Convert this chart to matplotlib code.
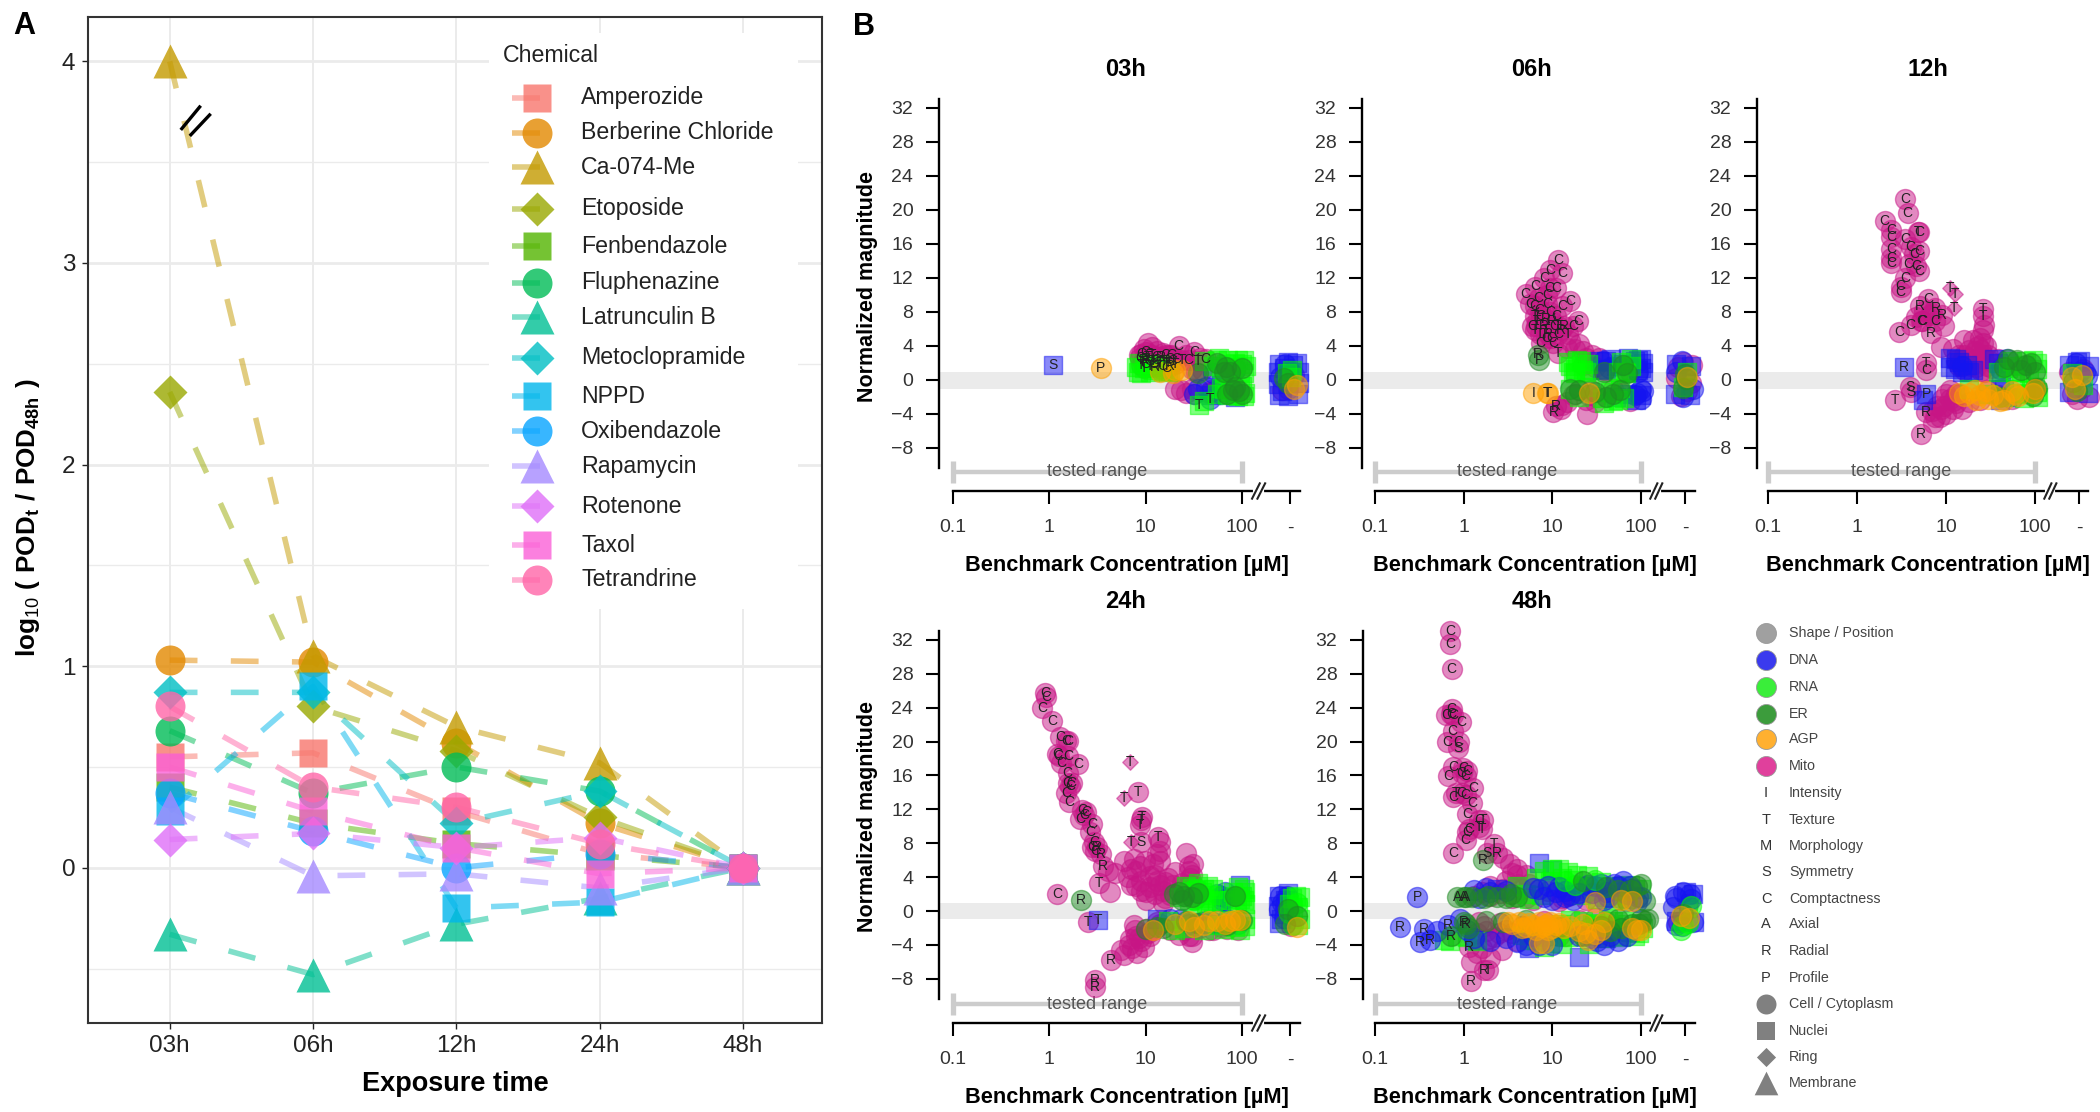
import matplotlib
matplotlib.use("Agg")
import matplotlib.pyplot as plt

plt.rcParams['font.family'] = ['Liberation Sans', 'DejaVu Sans']
plt.rcParams['mathtext.fontset'] = 'custom'
plt.rcParams['mathtext.rm'] = 'Liberation Sans'
plt.rcParams['mathtext.bf'] = 'Liberation Sans:bold'

W, H = 2100, 1112

# panel A
times = ['03h', '06h', '12h', '24h', '48h']
chemicals = ['Amperozide', 'Berberine Chloride', 'Ca-074-Me', 'Etoposide', 'Fenbendazole', 'Fluphenazine',
             'Latrunculin B', 'Metoclopramide', 'NPPD', 'Oxibendazole', 'Rapamycin', 'Rotenone', 'Taxol', 'Tetrandrine']
chem_colors = ['#F8766D', '#E38900', '#C49A00', '#99A800', '#53B400', '#00BC56', '#00C094',
               '#00BFC4', '#00B6EB', '#06A4FF', '#A58AFF', '#DF70F8', '#FB61D7', '#FF66A8']
chem_markers = ['s', 'o', '^', 'D', 's', 'o', '^', 'D', 's', 'o', '^', 'D', 's', 'o']
amperozide = [0.55, 0.57, 0.28, 0.07, 0]
berberine = [1.03, 1.02, 0.62, 0.22, 0]
ca074 = [4.0, 1.05, 0.70, 0.52, 0]
etoposide = [2.36, 0.80, 0.58, 0.25, 0]
fenbendazole = [0.40, 0.22, 0.12, 0.06, 0]
fluphenazine = [0.68, 0.37, 0.50, 0.38, 0]
latrunculin = [-0.33, -0.53, -0.28, -0.15, 0]
metoclopramide = [0.87, 0.87, 0.22, 0.38, 0]
nppd = [0.28, 0.90, -0.20, -0.17, 0]
oxibendazole = [0.37, 0.18, 0.0, 0.07, 0]
rapamycin = [0.30, -0.04, -0.03, -0.10, 0]
rotenone = [0.14, 0.17, 0.10, 0.15, 0]
taxol = [0.50, 0.28, 0.10, -0.03, 0]
tetrandrine = [0.80, 0.40, 0.30, 0.12, 0]
chem_values = [amperozide, berberine, ca074, etoposide, fenbendazole, fluphenazine, latrunculin,
               metoclopramide, nppd, oxibendazole, rapamycin, rotenone, taxol, tetrandrine]
break_x = [[0.077, 0.216], [0.14, 0.286]]
break_y = [[3.66, 3.78], [3.63, 3.74]]

# panel B, (bmc, magnitude[, feature letter])
h03_mito_cell = [(10.5, 4.4), (9.5, 3.6), (11.5, 3.9), (13, 3.4), (15, 3.2), (17, 3.0), (8.5, 2.9), (12, 2.6), (14, 2.4),
                 (16, 2.5), (19, 2.6), (22, 4.0, 'C'), (26, 2.9), (32, 3.3, 'C'), (28, 2.3, 'C'), (37, 2.6), (42, 2.5, 'C'),
                 (30, 1.3), (38, 1.2), (23, -1.2), (20, -1.1), (26, -1.5), (30, -1.0), (46, -1.4), (55, -1.0),
                 (9, 3.1, 'C'), (10, 3.3, 'C'), (10.5, 2.7, 'T'), (11, 3.0, 'C'), (12, 2.2, 'T'), (9.5, 2.3, 'R'), (9, 1.8, 'T'),
                 (10, 1.9, 'C'), (11, 1.6, 'T'), (12.5, 1.5, 'R'), (13, 2.7, 'C'), (14, 2.0, 'T'), (15, 1.7, 'C'), (16, 2.9, 'C'),
                 (17, 2.0, 'T'), (18, 1.6, 'R'), (9.5, 1.4, 'T'), (19, 2.2, 'C'), (24, 2.4, 'T'), (35, 2.2, 'T'),
                 (8.8, 2.6, 'C'), (9.3, 2.1, 'T'), (10, 2.5, 'R'), (10.8, 2.2, 'C'), (11.5, 2.9, 'T'), (12, 1.9, 'C'), (12.8, 2.4, 'C'),
                 (13.5, 1.7, 'T'), (14.5, 2.7, 'R'), (15.5, 2.2, 'T'), (16.5, 1.4, 'C'), (17.5, 2.5, 'C'), (18.5, 2.9, 'C'), (20, 1.9, 'T'),
                 (21, 2.5, 'C'), (85, 1.2), (84, 1.4), (32, -1.6), (45, -1.5), (48, -1.2), (33, 1.0), (260, -1.2), (300, -1.0), (350, 0.6)]
h03_dna_nuc = [(1.1, 1.75, 'S'), (48, -1.8), (85, -2.0), (60, -0.6), (240, 1.9), (300, 2.1), (370, 2.0), (390, 1.0), (235, 1.0),
               (235, -0.5), (240, -1.8), (300, -1.9), (380, -1.7), (395, -0.4), (310, 0.7), (270, 1.4), (340, 1.8), (260, -1.3)]
h03_dna_cell = [(32, -1.6), (47, -2.2, 'T'), (50, 0.8), (85, 1.2), (42, -0.8), (35, -1.1), (60, -1.7), (250, 0.4), (280, 1.9)]
h03_rna_nuc = [(8.3, 1.0), (8.5, 2.0), (9.5, 1.4), (11, 0.9), (13, 1.5), (15, 1.1), (17, 0.9), (55, 2.3), (60, 1.4), (65, 0.8),
               (72, 2.3), (80, 1.5), (90, 2.4), (95, 1.1), (105, 2.4), (105, 0.8), (110, 1.6), (36, -2.9, 'T'), (40, -2.5),
               (60, -0.9), (70, -1.8), (80, -1.0), (90, -1.9), (100, -0.7), (108, -1.5), (40, 2.2), (290, 0.8), (330, 1.2), (320, 0.4),
               (8, 1.5), (9, 0.8), (10, 1.9), (12, 1.2), (14, 1.9), (16, 1.3), (18, 1.1), (50, 1.6), (58, 2.6), (68, 1.9), (75, 1.0), (85, 2.0),
               (100, 1.9), (55, -1.6), (65, -1.0), (75, -1.4), (85, -1.8), (95, -1.2), (105, -1.9)]
h03_er_cell = [(68, 1.5), (75, 0.9), (80, -1.2), (92, -1.3), (55, 2.0), (35, 0.8), (270, 0.2), (300, -0.3), (65, 1.0), (100, 1.4),
               (85, -0.8), (70, -1.6), (100, -1.7)]
h03_agp_cell = [(3.4, 1.4, 'P'), (14, 0.9), (20, 1.2), (24, 1.2), (19, 0.8), (370, -0.6), (350, -1.0)]

h06_mito_cell = [(11.7, 14.1, 'C'), (9.4, 13, 'C'), (13, 12.6, 'C'), (8.1, 12, 'C'), (5, 10.1, 'C'), (6.4, 11, 'C'), (9.3, 10.8, 'C'),
                 (11, 10.8, 'C'), (8.7, 10, 'C'), (16, 9.3, 'C'), (13, 8.7, 'C'), (6.3, 8.7, 'C'), (8.8, 8.9, 'C'), (19.4, 6.9, 'C'),
                 (6.3, 7.5, 'T'), (7.4, 7.5, 'C'), (11, 7.5, 'C'), (5.9, 6.3, 'C'), (6.6, 6.3, 'T'), (8, 6.3, 'R'), (10.5, 6.3, 'C'),
                 (13.4, 6.3, 'R'), (17, 6.3, 'C'), (7.2, 5.4, 'T'), (9, 5.4, 'R'), (11.7, 5.4, 'C'), (15, 5.4, 'T'), (7.4, 4.4, 'C'),
                 (5.6, 8.9, 'C'), (7, 9.6, 'C'), (7.2, 8.2, 'C'), (6.8, 6.9, 'T'), (8.5, 7.2, 'R'), (9.5, 8, 'C'), (10, 6.9, 'R'), (11.5, 6.3, 'T'),
                 (12.5, 5.9, 'R'), (8.4, 5.9, 'T'), (9.6, 4.9, 'C'), (8.5, 4.9, 'C'), (6.4, 5.9, 'T'),
                 (10.3, 4.4, 'C'), (11.7, 3.2, 'T'), (15.7, 4.6), (20, 4.2), (22, 3.4), (18, 3.6), (14.5, 3.8), (24, 2.6), (22, 1.8),
                 (28, 3.0), (34, 2.6), (30, 1.5), (26, 0.9), (38, 1.2), (25, 2.0), (10.3, -3.8, 'R'), (11, -3, 'R'), (14.5, -2.6), (24.5, -4),
                 (24, -2.4), (12.5, -3.4), (17, -1.8), (20, -1.2), (27, -1.2), (32, -2.0), (60, -1.5), (75, 1.0), (48, -1.0),
                 (25, -1.8), (13, -2.9), (30, -2.6), (75, -2.5), (260, 1.5), (330, -1.3), (280, -1.9), (380, 1.8), (250, 0.2), (370, -0.3), (300, 2.1)]
h06_dna_nuc = [(34, 2.2), (40, 1.3), (46, 2.5), (62, 1.9), (72, 2.6), (85, 2.2), (100, 2.5), (100, 1.4), (52, -2.0), (70, -1.6),
               (245, 1.9), (370, 1.6), (240, -1.6), (360, -1.8), (40, 2.2), (36, 1.2), (52, 1.6), (92, 2.4), (92, 1.2), (105, 2.0), (105, 1.0),
               (88, -2.3), (100, -1.8)]
h06_dna_cell = [(37, 2.2), (44, 1.4), (85, -1.8), (100, -1.1), (100, -2.2), (92, 0.9), (250, 0.9), (385, -1.0), (290, 2.2), (300, -2.0), (90, -1.5), (105, -1.3)]
h06_rna_nuc = [(15, 2.1), (18, 1.3), (21, 2.2), (24, 0.9), (18, 0.8), (55, 1.0), (60, 2.1), (68, 0.8), (78, 1.6), (36, -2.1),
               (42, -1.2), (48, -2.5), (58, -0.9), (65, -2.1), (16, -1.0), (20, -2.0), (26, -0.8), (16, 1.7), (19, 2.3), (22, 1.2), (25, 1.9), (17, 1.0),
               (38, -2.7), (45, -1.4), (55, -2.4), (66, 0.9), (78, 2.5), (330, 1.0), (300, -0.8)]
h06_er_cell = [(6.9, 3, 'R'), (7.1, 2.3, 'P'), (16, -1.0), (18, -1.6), (30, -1.4), (38, 0.9), (58, -1.2), (70, 0.8), (62, 1.8),
               (310, 0.7), (320, 0.1), (300, -0.9), (20, -1.2), (40, -2.0), (48, -1.6)]
h06_agp_cell = [(6.1, -1.55, 'I'), (8.7, -1.55, 'T'), (9.0, -1.55, 'T'), (26, -1.5), (330, 0.3)]

h12_mito_cell = [(3.5, 21.3, 'C'), (3.7, 19.7, 'C'), (2.05, 18.7, 'C'), (2.4, 17.6, 'C'), (2.4, 16.8, 'C'), (5, 17.4, 'C'), (4.8, 17.4, 'T'),
                 (3.5, 16.6, 'C'), (5, 15.2, 'C'), (2.4, 15.4, 'C'), (2.4, 14.4, 'C'), (2.4, 13.8, 'C'), (4, 15.6, 'C'), (4.4, 14.8, 'C'),
                 (3.8, 13.6, 'C'), (4.6, 13.4, 'C'), (5, 12.8, 'C'), (3.5, 12, 'C'), (3.1, 11, 'C'), (3.1, 10.3, 'C'), (6.3, 9.5, 'C'),
                 (5.1, 8.7, 'R'), (7.6, 8.5, 'R'), (9, 7.7, 'R'), (7.6, 6.9, 'C'), (5.3, 6.9, 'C'), (5.4, 6.9, 'C'), (4, 6.5, 'C'),
                 (3, 5.7, 'C'), (6.7, 5.5, 'R'), (9.5, 6.3), (8.8, 3.9), (26, 8.3, 'T'), (26, 7.5, 'T'), (26, 5.9), (26, 4.3), (26, 2.6),
                 (27, 1), (20, 4.7), (16, 4.7), (16, 3), (13, 2.4), (21, 3.4), (25, 3.5), (30, 3.0), (29, 1.6), (6, 2, 'T'), (6, 1.2, 'C'),
                 (26, 3), (28, 4), (24, 5), (27, 6.5), (23, 4), (18, 3.5), (14, 3), (12, 3.6), (22, 2.5), (31, 2.2), (33, 1.4), (15, 2.2), (19, 1.6),
                 (25, 1.1), (14, 1.7), (16, 1.2), (5.6, 8.1), (6.6, 7.6), (4.6, 7.4), (7, 7.9),
                 (2.7, -2.4, 'T'), (3.9, -0.8, 'S'), (4, -1.4, 'S'), (6, -3.8, 'R'), (5.2, -6.3, 'R'), (7.2, -5), (7.5, -4.3),
                 (9.5, -3), (11, -2.2), (8.8, -3.4), (15, -3.4), (13, -2.7), (11, -1.2), (13, -1.6), (9, -2.2), (24, -2.4), (18, -2.6),
                 (8, -3.0), (10, -4), (12, -2.5), (14, -1.6), (10, -1.6), (12, -3.4), (7, -3.6), (8.5, -4.4), (30, -1.2), (38, -1.8), (55, -2.2),
                 (17, 2.6), (22, 1.5), (38, 2.5), (46, 1.3), (260, -1.6), (350, 1.3), (400, -2.0), (240, 0.9), (340, -0.9), (300, -2.2)]
h12_mito_ring = [(11, 10.8, 'T'), (12.5, 10.1, 'T'), (12.3, 8.5, 'T')]
h12_dna_nuc = [(3.4, 1.5, 'R'), (5.5, -2.4), (6, -1.6, 'P'), (11, 2.6), (12.5, 1.3), (14, 2.1), (18, 0.9), (38, 2.0), (42, 0.9), (40, -1.0),
               (48, -2.0), (240, 1.8), (320, 2.2), (400, 1.6), (240, -1.4), (395, -1.5), (300, 2.1), (11, 1.5), (13, 2.5), (15, 1.0), (17, 1.8), (20, 1.2),
               (40, -2.3), (45, -1.0), (35, 2.5)]
h12_dna_cell = [(15, 1.6), (40, 1.3), (48, 2.5), (310, 1.0), (380, 0.5), (290, 2.0), (360, 1.0)]
h12_rna_nuc = [(38, 1.0), (55, 2.2), (60, 0.9), (75, 1.8), (85, 0.8), (95, 2.3), (105, 1.3), (60, -1.0), (75, -2.1), (90, -1.2), (108, -2.0),
               (18, -1.1), (30, -1.7), (260, 0.8), (350, -0.6), (50, 1.4), (60, 1.6), (70, 0.9), (80, 2.2), (105, 2.0), (65, -1.5), (80, -1.6),
               (100, -0.8), (45, -2.0), (105, -1.4)]
h12_er_cell = [(45, 1.5), (62, 2.3), (80, 1.8), (100, 1.0), (40, -2.0), (100, -1.0), (270, -0.2), (300, -1.3), (50, 2.5), (70, 1.2), (90, 2.0),
               (105, -0.9), (95, -1.9)]
h12_agp_cell = [(14, -1.5), (16, -1.9), (18, -1.5), (21, -1.2), (24, -1.8), (28, -1.3), (34, -1.8), (40, -2.5), (55, -1.3), (65, -1.9),
                (95, -1.5), (280, -1.0), (260, 0.3), (340, 0.6), (45, -2.3), (60, -1.6), (100, -1.0), (30, -2.2), (22, -2.4)]

h24_mito_cell = [(0.91, 25.7, 'C'), (0.93, 25.3, 'C'), (0.84, 24, 'C'), (1.07, 22.4, 'C'), (1.3, 20.5, 'C'), (1.5, 20.1, 'C'), (1.58, 20.1, 'C'),
                 (1.2, 18.5, 'C'), (1.25, 18.3, 'C'), (1.33, 17.5, 'C'), (1.58, 18.3, 'C'), (2, 17.3, 'C'), (1.55, 16.3, 'C'), (1.55, 15.1, 'C'),
                 (1.65, 14.7, 'C'), (1.7, 15.1, 'C'), (1.5, 13.9, 'C'), (1.6, 12.9, 'C'), (2.2, 11.9, 'C'), (2.4, 11.7, 'C'), (2.3, 11.3, 'C'),
                 (2.1, 10.9, 'C'), (2.8, 10.3, 'C'), (2.65, 9.3, 'C'), (2.9, 8.1, 'C'), (3.1, 7.5, 'R'), (2.8, 7.5, 'C'), (3.4, 6.7, 'R'),
                 (3, 7.1, 'C'), (3.6, 5.3, 'R'), (4.1, 4.7), (4.8, 4.5), (3.3, 3.3, 'T'), (4.3, 2.3), (1.2, 1.95, 'C'), (2.55, -1.35, 'T'),
                 (8.4, 14, 'T'), (9, 10.7, 'T'), (8.8, 10.1, 'T'), (9.1, 11.1, 'T'), (9, 8.1, 'S'), (13.5, 8.7, 'T'), (14, 7.1), (9.8, 5.9), (14, 5.9),
                 (26, 6.9), (28, 4.7), (29, 3.9), (29, 3.1), (28, 5.3), (6, 5.9), (7, 3.1), (8, 4.7), (11, 2.8), (10, 1.3), (14, 3.1), (12.5, 4.3), (17, 3.9),
                 (18, 1.9), (12.5, 2.0), (15, 1.0), (6.5, 4), (7, 5), (8, 3), (9, 3.6), (10, 2.2), (11, 4.1), (12, 5.5), (13, 3.6), (15, 2.4), (16, 3.4),
                 (19, 3.1), (20, 4.6), (24, 3.3), (25, 2), (27, 2.5), (30, 4.3), (31, 5.6), (32, 3), (33, 1.5), (16, 1.5), (7.6, 6.1), (9, 2.4), (8.7, 5.3),
                 (13, 6.7), (14, 8.1), (4.4, -5.8, 'R'), (3, -8.2, 'R'), (3, -9, 'R'), (5.5, -4.6), (6.7, -4), (8.2, -5), (6, -5.2), (6.8, -3.3),
                 (8, -2.9), (10, -2.1), (7.5, -1.6), (9, -3.6), (11, -3.0), (13, -1.3), (30, -3.7), (22, -2.8), (45, -2.2), (60, -1.9), (320, -1.8),
                 (7.2, -4.4), (7.7, -2.3), (8.6, -3.2), (9.6, -4.2), (10.5, -2.6), (12, -2.2), (14, -1.5), (16, -1.3), (18, -2.2), (25, -2.3), (28, -3), (36, -2.0),
                 (40, -1.2), (50, -2.2), (70, -2.1), (90, -2.2), (30, -2.9)]
h24_mito_ring = [(6.9, 17.6, 'T'), (6, 13.4, 'T'), (7.1, 8.1, 'T')]
h24_dna_nuc = [(3.2, -1.05, 'T'), (96, 3.1), (60, 1.1), (13, -0.9), (45, -1.5), (240, 1.8), (300, 2.1), (240, -1.4), (235, 0.6), (280, 1.3), (270, -0.4), (255, -0.9)]
h24_dna_cell = [(18, -1.0), (23, -0.9), (60, 1.75), (66, 2.3), (38, -1.3), (260, 1.0), (290, 1.8), (270, -0.8), (55, 2), (62, 1.3), (70, 1.5), (28, -1.5), (50, -1.3),
                (70, -1), (90, -1.5), (250, 1.8), (240, 0.2)]
h24_rna_nuc = [(22, 1.7), (30, 2.7), (36, 1.3), (40, 2.6), (48, 1.9), (42, 0.9), (80, 2.3), (95, 1.4), (108, 2.2), (108, 0.8), (88, 0.9),
               (17, -1.2), (25, -2.0), (55, -1.6), (85, -1.9), (108, -1.0), (330, 1.5), (380, 0.5), (400, -1.0), (26, 3), (28, 1.3), (33, 2.5), (35, 3.3), (38, 2.2),
               (40, 1.5), (44, 3.0), (46, 1.2), (50, 2.6), (55, 1.3), (75, 1.3), (85, 1.8), (90, 2.8), (100, 1.8), (105, 2.6), (105, 1.3), (20, -2.3), (30, -1.0),
               (40, -2.2), (50, -0.9), (65, -2.1), (75, -1.1), (95, -2.3), (108, -1.8), (360, 1.8), (400, 1.6), (340, 0.2), (380, -1.6), (310, 0.8)]
h24_rna_cell = [(25, 2.2), (32, 1.3), (310, -0.2), (340, -1.6), (370, 1.0)]
h24_er_cell = [(2.15, 1.35, 'R'), (19.5, 2), (24, 1.3), (30, 1.6), (10, -2.1), (13, -1.9), (15, -2), (34, -1.4), (100, -1.1), (300, 0.2), (280, -1.5),
               (25, 1.8), (22, 2.2), (35, 2.1), (85, 1.8), (26, -1.2), (70, -1.7), (370, -0.6)]
h24_agp_cell = [(66, -1.5), (75, -1.2), (96, -1.05), (45, -1.2), (32, -1.9), (370, -1.9), (12, -2.2), (55, -1.2), (85, -1.1), (40, -1.6), (28, -1.2), (20, -1.5)]

h48_mito_cell = [(0.7, 33.1, 'C'), (0.7, 31.5, 'C'), (0.73, 28.6, 'C'), (0.73, 23.9, 'C'), (0.72, 23.3, 'C'), (0.63, 23.1, 'C'), (0.76, 23.1, 'C'),
                 (0.93, 22.3, 'C'), (0.75, 21.3, 'C'), (0.65, 20, 'C'), (0.88, 19.9, 'C'), (0.87, 19.3, 'S'), (0.76, 17, 'C'), (0.98, 16.9, 'C'),
                 (1.1, 16.5, 'C'), (0.67, 15.9, 'C'), (1.05, 15.9, 'C'), (0.95, 16.3, 'C'), (1.27, 14.5, 'C'), (0.82, 13.9, 'T'), (0.76, 13.5, 'C'),
                 (1.05, 13.7, 'C'), (0.95, 13.9, 'C'), (1.25, 12.7, 'C'), (1.1, 11.4, 'C'), (1.65, 10.7, 'T'), (1.5, 10.7, 'C'),
                 (1.15, 9.7, 'C'), (1.1, 9.3, 'C'), (1.05, 8.4, 'C'), (1.6, 9.7, 'T'), (1.48, 9.9, 'T'), (0.76, 6.8, 'C'), (2.2, 7.9, 'T'),
                 (1.85, 6.9, 'S'), (2.35, 6.9, 'R'), (1.15, -4.2, 'R'), (1.2, -6), (1.9, -7, 'T'), (1.7, -7, 'R'), (1.2, -8.3, 'R'), (2.0, -5.6),
                 (1.6, -4.4), (2.7, -4.6), (1.4, -5), (2.8, 6.3), (3.3, 5.5), (4, 5), (5, 4.3), (3, 3.6), (4, 3.2), (2, 1.8), (2.6, 2.1), (1.6, 2.3),
                 (1.5, -1.3), (1.8, -2.4), (2.2, -3.1), (1.4, -2.6), (2.6, -1.4), (3, -2.3), (13, 1.5), (24, 1.3), (60, 2.2), (20, -1.1), (14, -2.9),
                 (4, -3.6), (30, -0.8), (4, 4.2), (5.5, 3.2), (3.5, 4.5), (4.5, 2.6), (6, 1.3), (3.5, 1.5), (2.8, 2.6), (2, 2.9), (1.3, 1.8), (5, 1.5), (9, 2.4),
                 (15, 1.8), (18, 2.4), (25, 2.2), (35, 2.8), (12, 1.2), (1.7, -1.8), (2.5, -2.6), (1.9, -3.3), (3.5, -2.6), (4.5, -1.8), (7.5, -2.5), (12, -3),
                 (25, -2), (40, -1.2), (50, -2.3), (8, -1.2), (260, -1.3), (340, 0.8)]
h48_dna_cell = [(0.3, 1.65, 'P'), (0.19, -1.85, 'R'), (0.36, -2.1, 'R'), (0.32, -3.7, 'R'), (0.42, -3.4, 'R'), (0.66, -1.6, 'R'), (0.5, -2.4),
                (0.9, -1.0), (1.1, -2.2), (1.3, 2.5), (1.8, 2.7), (6, 2.7), (8, 1.7), (11, 2.2), (14, 1.6), (16, 1.9), (30, 2.9), (40, 2.3), (62, 3.5),
                (75, 2.9), (90, 1.1), (92, 1.6), (7, -4.0), (32, -3.6), (240, 1.8), (300, 2.3), (370, 1.4), (230, 0.5), (250, -1.7), (390, -1.3),
                (7, 2.6), (9, 2.9), (10, 1.3), (12, 2.8), (14, 2.4), (17, 1.3), (20, 2.1), (25, 3.1), (28, 2.1), (35, 3.2), (38, 1.3), (42, 1.7), (50, 3.2), (55, 2.9),
                (70, 2.0), (80, 2.6), (100, 1.6), (3, 2.4), (2, 2.2), (1.5, 1.5), (4, -3.7), (5, -4), (6, -3), (10, -4), (20, -3), (28, -3.2), (38, -4), (45, -3),
                (55, -3.5), (70, -3), (1.3, -3.2), (2, -3.6), (3, -3.2), (250, 1.5), (290, -1.8), (360, 2)]
h48_dna_nuc = [(1.3, -3.4), (2.4, 2.6), (7, 5.7), (10, 4.8), (5.5, -4.4), (9, -3.0), (20, -5.4), (25, 3.0), (60, 1.5), (40, -3.2),
               (320, 2.3), (245, -1.2), (390, 2.0), (400, -1.3)]
h48_rna_nuc = [(0.7, -3.5), (0.85, -2.9), (1.1, -3.1), (4, 3.0), (5, 2.0), (6.5, -3.4), (8, 4.7), (12, 5.0), (15, 4.6), (17, 3.7), (21, 1.9),
               (29, 2.4), (32, 1.4), (45, 3.0), (55, 1.9), (70, 1.4), (85, 2.6), (8, -4.2), (11, -2.9), (13, -3.9), (18, -2.2), (26, -3.9), (30, -1.4),
               (36, -1.7), (45, -1.8), (55, -2.9), (70, -1.5), (85, -3.0), (100, -1.4), (340, 0.3), (3.8, 1.7), (5.5, 1.4), (6.5, 3.9), (7.5, 1.9), (9.5, 3.6), (10, 5),
               (13, 3.9), (16, 2.7), (19, 4.3), (22, 2.9), (25, 4.1), (35, 3.4), (40, 1.7), (48, 1.3), (60, 2.9), (75, 3.1), (100, 2.6), (4.5, -2.8), (5.5, -3.4), (7.5, -3.1),
               (9.5, -3.8), (12.5, -1.5), (15, -3.1), (16, -1.1), (22, -1.2), (24, -2.9), (28, -1.5), (33, -2.8), (38, -3.2), (42, -1.0), (48, -1.2), (60, -3.1), (65, -1.2),
               (75, -2.5), (95, -2.6), (105, -2), (1.4, -3.5), (0.6, -3.4)]
h48_rna_cell = [(14, 3.5), (18, 3.1), (30, 3.7), (340, -1.4), (300, -1.7), (280, -2.2), (370, 0.6)]
h48_er_cell = [(1.65, 6, 'R'), (0.85, 1.7, 'A'), (1.0, 1.7, 'A'), (1.05, 1.6, 'A'), (1.25, 1.6), (1.7, 1.5), (2.4, 1.6), (3, 1.5), (1.05, -1.55, 'R'),
               (1.0, -1.3, 'R'), (1.15, -2.0), (0.72, -2.9, 'R'), (1.8, -1.2), (22, 3.5), (55, 2.5), (90, 3.0), (35, -1.8), (60, -2.0), (100, -1.0),
               (95, -1.5), (12, -1.9), (22, -3.0), (70, 1.2), (300, -0.4), (40, 2.8), (75, 2.5), (100, 3.2), (110, 1.2), (110, -1.2), (120, -0.9), (80, -1.5),
               (55, -0.9), (45, -2.4), (4, 1.7), (3.4, 2.0), (1.9, 1.8), (2.8, -1.3), (5, -1.1)]
h48_agp_cell = [(3.5, -1.5), (4.2, -1.3), (5, -1.9), (6, -1.7), (7, -1.3), (8.2, -1.6), (9.5, -1.3), (11, -1.7), (7, -3.8), (9, -2.2), (16, -1.8),
                (20, -2.4), (25, -3.4), (35, -2.2), (80, -2.0), (90, -2.3), (60, 1.3), (280, -0.6), (350, -0.8), (3.2, -1.3), (4.6, -2), (5.5, -1.4), (6.5, -2.2),
                (7.6, -1.9), (8.8, -1.5), (10, -2), (12, -1.4), (13.5, -2), (22, -1.5), (24, -2.6), (30, -2.7), (38, -1.3), (100, -2.2), (8, -3.8), (30, 1.1), (80, 1.2)]

panel_names = ['03h', '06h', '12h', '24h', '48h']
panel_series = {
    '03h': [('mito', 'cell', h03_mito_cell), ('dna', 'nuc', h03_dna_nuc), ('dna', 'cell', h03_dna_cell), ('rna', 'nuc', h03_rna_nuc),
            ('er', 'cell', h03_er_cell), ('agp', 'cell', h03_agp_cell)],
    '06h': [('mito', 'cell', h06_mito_cell), ('dna', 'nuc', h06_dna_nuc), ('dna', 'cell', h06_dna_cell), ('rna', 'nuc', h06_rna_nuc),
            ('er', 'cell', h06_er_cell), ('agp', 'cell', h06_agp_cell)],
    '12h': [('mito', 'cell', h12_mito_cell), ('mito', 'ring', h12_mito_ring), ('dna', 'nuc', h12_dna_nuc), ('dna', 'cell', h12_dna_cell),
            ('rna', 'nuc', h12_rna_nuc), ('er', 'cell', h12_er_cell), ('agp', 'cell', h12_agp_cell)],
    '24h': [('mito', 'cell', h24_mito_cell), ('mito', 'ring', h24_mito_ring), ('dna', 'nuc', h24_dna_nuc), ('dna', 'cell', h24_dna_cell),
            ('rna', 'nuc', h24_rna_nuc), ('rna', 'cell', h24_rna_cell), ('er', 'cell', h24_er_cell), ('agp', 'cell', h24_agp_cell)],
    '48h': [('mito', 'cell', h48_mito_cell), ('dna', 'nuc', h48_dna_nuc), ('rna', 'nuc', h48_rna_nuc), ('dna', 'cell', h48_dna_cell),
            ('rna', 'cell', h48_rna_cell), ('er', 'cell', h48_er_cell), ('agp', 'cell', h48_agp_cell)],
}
channel_colors = {'mito': '#C71585', 'dna': '#1414F0', 'rna': '#00FF00', 'er': '#1E8B22', 'agp': '#FFA000'}
comp_markers = {'cell': ('o', 207), 'nuc': ('s', 150), 'ring': ('D', 62), 'mem': ('^', 207)}
# yaxis, axis end, 0.1 tick, 100 tick, top, x axis line, y=0, px per unit
panel_geom = {'03h': (939, 1300, 953, 1242, 99, 491, 380, 8.5), '06h': (1362, 1695, 1375, 1641, 99, 491, 380, 8.5),
              '12h': (1757, 2088, 1768, 2035, 99, 491, 380, 8.5), '24h': (939, 1300, 953, 1242, 631, 1023, 911, 8.47),
              '48h': (1363, 1695, 1375, 1641, 631, 1023, 911, 8.47)}
title_pos = {'03h': (1126, 70), '06h': (1532, 70), '12h': (1928, 70), '24h': (1126, 601), '48h': (1532, 601)}
legend_y = [73, 99, 125, 156, 184, 211, 237, 267, 296, 322, 348, 378, 407, 433]

legend2_names = ['Shape / Position', 'DNA', 'RNA', 'ER', 'AGP', 'Mito', 'Intensity', 'Texture', 'Morphology', 'Symmetry', 'Comptactness',
                 'Axial', 'Radial', 'Profile', 'Cell / Cytoplasm', 'Nuclei', 'Ring', 'Membrane']
legend2_y = [473, 493, 513, 533, 552, 572, 592, 612, 632, 651, 671, 690, 710, 730, 750, 770, 789, 809]
legend2_letters = ['I', 'T', 'M', 'S', 'C', 'A', 'R', 'P']

fig = plt.figure(figsize=(W / 100, H / 100), dpi=100, facecolor='white')


def px_axes(left, right, top, bottom):
    return fig.add_axes([left / W, 1 - bottom / H, (right - left) / W, (bottom - top) / H])


def DrawTimeCourse():
    ax = px_axes(88, 822, 17, 1023)
    ax.set_xlim(-0.57, 4.55)
    ax.set_ylim(-0.77, 4.22)
    ax.set_xticks(range(5))
    ax.set_xticklabels(times)
    ax.set_yticks([0, 1, 2, 3, 4])
    ax.set_yticks([-0.5, 0.5, 1.5, 2.5, 3.5], minor=True)
    ax.grid(True, which='major', axis='y', color='#ebebeb', lw=2)
    ax.grid(True, which='minor', axis='y', color='#ebebeb', lw=1)
    ax.grid(True, which='major', axis='x', color='#ebebeb', lw=1.4)
    ax.set_axisbelow(True)
    ax.tick_params(axis='both', which='major', labelsize=17.5, length=4, width=1, colors='#222222', pad=5)
    ax.tick_params(axis='both', which='minor', length=0)
    for s in ax.spines.values():
        s.set_color('#333333')
        s.set_linewidth(1.5)
    for vals, col in zip(chem_values, chem_colors):
        ax.plot(range(5), vals, color=col, alpha=0.5, lw=4, dashes=(5, 6), dash_capstyle='butt', zorder=2)
    for vals, col, m in zip(chem_values, chem_colors, chem_markers):
        ms = {'s': 20.5, 'o': 21.6, '^': 25, 'D': 17}[m]
        ax.plot(range(5), vals, ls='none', marker=m, ms=ms, mfc=col, mec='none', alpha=0.8, zorder=3)
    for bx, by in zip(break_x, break_y):
        ax.plot(bx, by, color='black', lw=2.4, zorder=4, solid_capstyle='butt')
    ax.set_xlabel('Exposure time', fontsize=19.5, fontweight='bold', labelpad=10)
    fig.text(28 / W, 1 - 518 / H, r'$\mathrm{\mathbf{log}}_{10}$' + r' $\mathbf{(\ POD_{t}\ /\ POD_{48h}\ )}$', rotation=90,
             ha='center', va='center', fontsize=18.7, fontweight='bold')


def DrawPanel(name):
    left, end, p01, p100, top, line, y0, unit = panel_geom[name]
    dec = (p100 - p01) / 3
    ax = px_axes(left, end, top, line)
    ax.set_xscale('log')
    ax.set_xlim(10 ** (-1 - (p01 - left) / dec), 10 ** (-1 + (end - p01) / dec))
    ax.set_ylim((y0 - line) / unit, (y0 - top) / unit)
    ax.patch.set_alpha(0)
    for s in ['top', 'right']:
        ax.spines[s].set_visible(False)
    ax.spines['left'].set_bounds(-10.4, (y0 - top) / unit)
    ax.spines['bottom'].set_bounds(0.1, ax.get_xlim()[1])
    ax.spines['left'].set_linewidth(1.7)
    ax.spines['bottom'].set_linewidth(1.7)
    ax.set_yticks(range(-8, 33, 4))
    ax.set_xticks([0.1, 1, 10, 100, 315])
    ax.set_xticklabels(['0.1', '1', '10', '100', '-'])
    ax.minorticks_off()
    ax.tick_params(axis='both', labelsize=14, length=9.5, width=1.5, labelcolor='#333333', pad=9)
    ax.tick_params(axis='x', pad=11)

    ax.axhspan(-1, 1, color='#ebebeb', lw=0, zorder=0)
    # tested range
    yr = (y0 - (line - 19)) / unit
    ax.plot([0.1, 100], [yr, yr], color='#cccccc', lw=3.2, zorder=1, solid_capstyle='butt')
    for xc in [0.1, 100]:
        ax.plot([xc, xc], [yr - 1.3, yr + 1.3], color='#cccccc', lw=3.8, zorder=1, solid_capstyle='butt', clip_on=False)
    ax.text(10 ** 0.495, yr, 'tested range', ha='center', va='center', fontsize=13, color='#555555', zorder=2)
    # axis break
    yb = ax.get_ylim()[0]
    bx = 146.8
    ax.plot([bx * 0.92, bx * 1.09], [yb, yb], color='white', lw=3, clip_on=False, zorder=5)
    for f in [0.95, 1.08]:
        ax.plot([bx * f * 10 ** -0.04, bx * f * 10 ** 0.04], [yb - 0.9, yb + 0.9], color='#222222', lw=1.5, clip_on=False, zorder=6)

    z = 3
    for chan, comp, rows in panel_series[name]:
        col = channel_colors[chan]
        m, s = comp_markers[comp]
        xs = [r[0] for r in rows]
        ys = [r[1] for r in rows]
        ax.scatter(xs, ys, marker=m, s=s, color=col, alpha=0.5, linewidths=1, edgecolors=col, clip_on=False, zorder=z)
        for r in rows:
            if len(r) > 2:
                ax.text(r[0], r[1], r[2], ha='center', va='center', fontsize=10, color='#222222', zorder=10, clip_on=False)
        z += 0.1

    fig.text(title_pos[name][0] / W, 1 - title_pos[name][1] / H, name, ha='center', va='center', fontsize=17, fontweight='bold')
    cx = (p01 + end) / 2
    fig.text(cx / W, 1 - (line + 74) / H, 'Benchmark Concentration [µM]', ha='center', va='center', fontsize=15.7, fontweight='bold')
    if name in ('03h', '24h'):
        fig.text(867 / W, 1 - (y0 - 94) / H, 'Normalized magnitude', rotation=90, ha='center', va='center', fontsize=15.5, fontweight='bold')


def DrawLegends():
    ov = fig.add_axes([0, 0, 1, 1], zorder=20)
    ov.set_xlim(0, W)
    ov.set_ylim(H, 0)
    ov.axis('off')
    ov.patch.set_alpha(0)
    ov.fill_between([489, 798], [33, 33], [609, 609], color='white', lw=0, zorder=1)
    ov.text(503, 56, 'Chemical', ha='left', va='center', fontsize=16.7, color='#222222', zorder=3)
    for name, col, m, y in zip(chemicals, chem_colors, chem_markers, legend_y):
        yp = y * 2100 / 1568
        ms = {'s': 20.5, 'o': 21.6, '^': 25, 'D': 17}[m]
        ov.plot([512, 540], [yp, yp], color=col, alpha=0.5, lw=4, solid_capstyle='butt', zorder=2)
        ov.plot([537], [yp], ls='none', marker=m, ms=ms, mfc=col, mec='none', alpha=0.8, zorder=3)
        ov.text(581, yp, name, ha='left', va='center', fontsize=16.7, color='#222222', zorder=3)

    letters = iter(legend2_letters)
    for i, (name, y) in enumerate(zip(legend2_names, legend2_y)):
        yp = y * 2100 / 1568
        if i < 6:
            col = ['#a0a0a0', '#3a3aee', '#3aee3a', '#3c9c3c', '#ffb030', '#e0409c'][i]
            ov.scatter([1766], [yp], s=207, color=col, edgecolors='#999999', linewidths=0.6, zorder=3)
        elif i < 14:
            ov.text(1766, yp, next(letters), ha='center', va='center', fontsize=10.5, color='#333333', zorder=3)
        else:
            m, s = {14: ('o', 207), 15: ('s', 180), 16: ('D', 95), 17: ('^', 290)}[i]
            ov.scatter([1766], [yp], marker=m, s=s, color='#808080', lw=0, zorder=3)
        ov.text(1789, yp, name, ha='left', va='center', fontsize=10.3, color='#444444', zorder=3)
    ov.text(24, 26, 'A', ha='center', va='center', fontsize=22, fontweight='bold', zorder=3)
    ov.text(864, 27, 'B', ha='center', va='center', fontsize=22, fontweight='bold', zorder=3)


DrawTimeCourse()
for panel in panel_names:
    DrawPanel(panel)
DrawLegends()
fig.savefig('out.png', dpi=100, facecolor='white')
